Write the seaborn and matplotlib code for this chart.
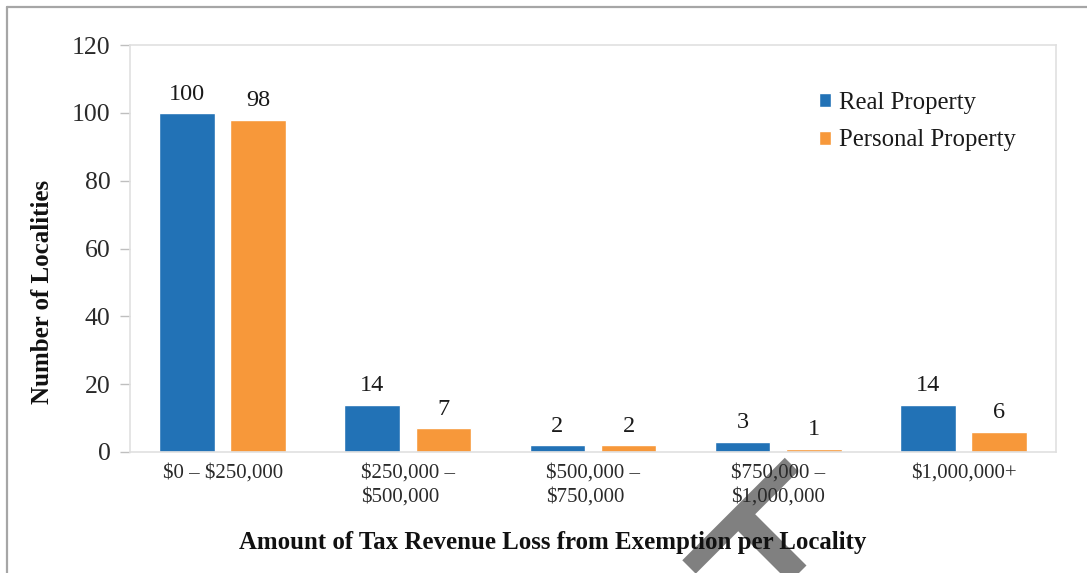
import numpy as np
import pandas as pd
import matplotlib
matplotlib.use("Agg")
import matplotlib.pyplot as plt
from matplotlib.lines import Line2D
import seaborn as sns

# Data
categories = ["$0 – $250,000", "$250,000 –\n$500,000", "$500,000 –\n$750,000",
              "$750,000 –\n$1,000,000", "$1,000,000+"]
real_property = [100, 14, 2, 3, 14]
personal_property = [98, 7, 2, 1, 6]
series_names = ["Real Property", "Personal Property"]
y_ticks = [0, 20, 40, 60, 80, 100, 120]

df = pd.DataFrame({
    "range": categories * 2,
    "count": real_property + personal_property,
    "type": [series_names[0]] * len(categories) + [series_names[1]] * len(categories),
})

sns.set_theme(style="white")
plt.rcParams["font.family"] = ["Liberation Serif", "DejaVu Serif"]
plt.rcParams["text.parse_math"] = False

W, H, DPI = 1087, 573, 100
fig = plt.figure(figsize=(W / DPI, H / DPI), dpi=DPI)
ax = fig.add_axes([130 / W, 1 - 452 / H, (1056 - 130) / W, (452 - 45) / H])
ax.set_facecolor("none")

palette = {"Real Property": "#2272B6", "Personal Property": "#F7983A"}
sns.barplot(data=df, x="range", y="count", hue="type", order=categories,
            hue_order=series_names, palette=palette, width=0.77, gap=0.22,
            saturation=1, ax=ax, legend=True)

for cont in ax.containers:
    ax.bar_label(cont, fmt="%d", padding=6, fontsize=17.5, color="#1a1a1a")

ax.set_ylim(0, 120)
ax.set_yticks(y_ticks)
ax.tick_params(axis="y", labelsize=18.5, colors="#bfbfbf", labelcolor="#2a2a2a",
               length=7, width=1, direction="out", pad=7, left=True)
ax.tick_params(axis="x", labelsize=15, labelcolor="#2a2a2a", length=0, pad=8)
for lab in ax.get_xticklabels():
    lab.set_multialignment("left")
    lab.set_linespacing(1.38)

for side in ["left", "right", "top", "bottom"]:
    ax.spines[side].set_visible(True)
    ax.spines[side].set_color("#e0e0e0")
    ax.spines[side].set_linewidth(1.2)

ax.set_xlabel("Amount of Tax Revenue Loss from Exemption per Locality",
              fontsize=17.9, fontweight="bold", color="#111111")
ax.xaxis.set_label_coords((553 - 130) / 926, (452 - 543) / 407)
ax.xaxis.label.set_va("center")
ax.set_ylabel("Number of Localities", fontsize=18, fontweight="bold", color="#111111")
ax.yaxis.set_label_coords((43 - 130) / 926, (452 - 292) / 407)
ax.yaxis.label.set_va("center")

leg = ax.legend(loc="upper left", bbox_to_anchor=((819 - 130) / 926, (452 - 92) / 407),
                frameon=False, fontsize=17.8, handlelength=0.5, handleheight=0.5,
                handletextpad=0.3, labelspacing=0.62, borderaxespad=0, borderpad=0)
for t in leg.get_texts():
    t.set_color("#1a1a1a")

# outer frame (top and left edges)
def px(x, y):
    return x / W, 1 - y / H

fig.add_artist(Line2D(*zip(px(7, 7), px(W, 7)), transform=fig.transFigure,
                      color="#a6a6a6", lw=1.6))
fig.add_artist(Line2D(*zip(px(7, 7), px(7, H)), transform=fig.transFigure,
                      color="#a6a6a6", lw=1.6))

# gray rotated T marker near the bottom, drawn beneath the axes text
pt = 72 / DPI
fig.add_artist(Line2D(*zip(px(791.5, 464.5), px(689, 567)), transform=fig.transFigure,
                      color="#808080", lw=19 * pt, solid_capstyle="butt", zorder=-1))
fig.add_artist(Line2D(*zip(px(740, 516), px(830, 606)), transform=fig.transFigure,
                      color="#808080", lw=24 * pt, solid_capstyle="butt", zorder=-1))

fig.savefig("out.png", dpi=DPI)
